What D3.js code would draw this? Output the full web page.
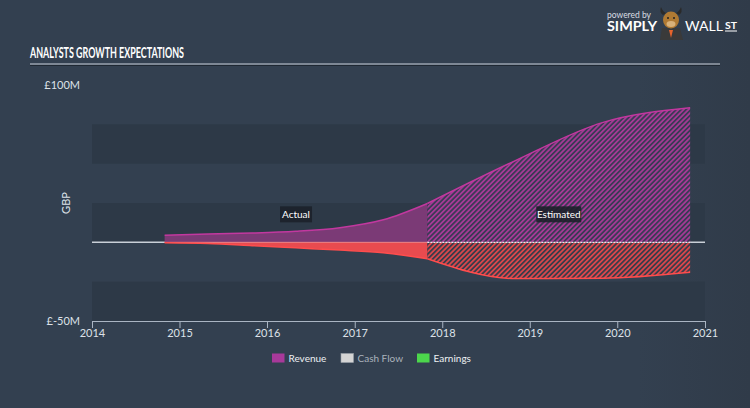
<!DOCTYPE html>
<html><head><meta charset="utf-8">
<script src="https://cdn.jsdelivr.net/npm/d3@7"></script>
<style>
html,body{margin:0;padding:0;background:#334050;}
svg{display:block;}
text{font-family:"Lato","Open Sans",sans-serif;}
</style></head>
<body>
<script>
// ---- data (GBP millions) ----
const actualDates = ["2014-10-31","2015-04-30","2015-10-31","2016-04-30","2016-10-31","2017-04-30","2017-10-31"];
const actualRevenue = [4.5, 5.3, 5.9, 7.0, 9.3, 14.3, 24.7];
const actualEarnings = [-0.3, -0.8, -2.1, -3.5, -4.9, -6.6, -10.4];
const estimateDates = ["2017-10-31","2018-10-31","2019-10-31","2020-10-31"];
const estimateRevenue = [24.7, 51.8, 76.1, 85.5];
const estimateEarnings = [-10.4, -23.0, -22.8, -19.0];
const yTickValues = [-50, 100];
const yTickLabels = ["£-50M", "£100M"];
const xTickYears = [2014, 2015, 2016, 2017, 2018, 2019, 2020, 2021];
const legendItems = ["Revenue", "Cash Flow", "Earnings"];
const legendColors = ["#a8399a", "#d4d4d4", "#4cd64c"];

const W = 750, H = 408;
const svg = d3.select("body").append("svg").attr("width", W).attr("height", H);

// background
const bg = svg.append("defs");
const grad = bg.append("linearGradient").attr("id","bgg").attr("x1","0").attr("x2","1").attr("y1","0").attr("y2","0");
grad.append("stop").attr("offset","0").attr("stop-color","#334050");
grad.append("stop").attr("offset","0.85").attr("stop-color","#334050");
grad.append("stop").attr("offset","1").attr("stop-color","#303b49");
svg.append("rect").attr("width", W).attr("height", H).attr("fill", "url(#bgg)");

// hatch patterns
function hatch(id, stripe, base) {
  const p = bg.append("pattern").attr("id", id).attr("patternUnits","userSpaceOnUse")
    .attr("width", 3.5).attr("height", 3.5).attr("patternTransform","rotate(45)");
  p.append("rect").attr("width",3.5).attr("height",3.5).attr("fill",base);
  p.append("rect").attr("width",1.75).attr("height",3.5).attr("fill",stripe);
}
hatch("hatchRev", "#a53a95", "#3a3a55");
hatch("hatchEarn", "#d9474c", "#3b3c4a");

// title
svg.append("text").attr("x", 30).attr("y", 58).text("ANALYSTS GROWTH EXPECTATIONS")
  .attr("fill", "#ffffff").attr("font-family", "'Liberation Sans Narrow','DejaVu Sans Condensed',sans-serif")
  .attr("font-weight", "bold").attr("font-size", 15)
  .attr("textLength", 154).attr("lengthAdjust", "spacingAndGlyphs");
svg.append("line").attr("x1",30).attr("x2",720).attr("y1",64).attr("y2",64).attr("stroke","#c9d0d9").attr("stroke-width",1.2);
svg.append("line").attr("x1",30).attr("x2",720).attr("y1",65.5).attr("y2",65.5).attr("stroke","#1f2833").attr("stroke-width",1);

// logo
const logo = svg.append("g");
logo.append("text").attr("x",607).attr("y",18).text("powered by").attr("fill","#d8dde3").attr("font-size",9)
  .attr("textLength",44).attr("lengthAdjust","spacingAndGlyphs");
logo.append("text").attr("x",607).attr("y",31).text("SIMPLY").attr("fill","#ffffff").attr("font-size",12.5).attr("font-weight","bold")
  .attr("textLength",50).attr("lengthAdjust","spacingAndGlyphs");
logo.append("text").attr("x",685).attr("y",31).text("WALL").attr("fill","#ffffff").attr("font-size",12.5)
  .attr("textLength",38).attr("lengthAdjust","spacingAndGlyphs");
logo.append("text").attr("x",725).attr("y",29).text("ST").attr("fill","#ffffff").attr("font-size",9.5).attr("font-weight","bold")
  .attr("textLength",12).attr("lengthAdjust","spacingAndGlyphs");
logo.append("line").attr("x1",725).attr("x2",737).attr("y1",31).attr("y2",31).attr("stroke","#fff").attr("stroke-width",1);
// bull
logo.append("path").attr("d","M660,40 L662,28 L680,28 L683,40 Z").attr("fill","#3a3a3a");
logo.append("path").attr("d","M669,30 L671,38 L673,30 Z").attr("fill","#e8642c");
logo.append("ellipse").attr("cx",671).attr("cy",20).attr("rx",8).attr("ry",8.5).attr("fill","#b07a33");
logo.append("path").attr("d","M663,15 Q659,12 661,7 Q663,12 666,13 Z").attr("fill","#2a2a2a");
logo.append("path").attr("d","M679,15 Q683,12 681,7 Q679,12 676,13 Z").attr("fill","#2a2a2a");
logo.append("ellipse").attr("cx",671).attr("cy",24).attr("rx",4.5).attr("ry",3).attr("fill","#d9b27a");
logo.append("circle").attr("cx",668).attr("cy",18).attr("r",1).attr("fill","#222");
logo.append("circle").attr("cx",674).attr("cy",18).attr("r",1).attr("fill","#222");

// scales
const parse = d3.timeParse("%Y-%m-%d");
const x = d3.scaleTime().domain([new Date(2014,0,1), new Date(2021,0,1)]).range([92, 705]);
const y = d3.scaleLinear().domain([-50, 100]).range([321, 85]);

// bands
const bandSteps = d3.range(-50, 100, 25);
svg.append("g").selectAll("rect").data(bandSteps.filter((d,i)=> i%2===0)).join("rect")
  .attr("x", x.range()[0]).attr("width", x.range()[1]-x.range()[0])
  .attr("y", d => y(d+25)).attr("height", d => y(d)-y(d+25))
  .attr("fill", "#2d3947");

// zero line
svg.append("line").attr("x1", x.range()[0]).attr("x2", x.range()[1]).attr("y1", y(0)).attr("y2", y(0))
  .attr("stroke", "#c9d0d8").attr("stroke-width", 1.5);

const act = actualDates.map((d,i)=>({date: parse(d), rev: actualRevenue[i], earn: actualEarnings[i]}));
const est = estimateDates.map((d,i)=>({date: parse(d), rev: estimateRevenue[i], earn: estimateEarnings[i]}));

const curve = d3.curveMonotoneX;
const areaRev = d3.area().x(d=>x(d.date)).y0(y(0)).y1(d=>y(d.rev)).curve(curve);
const lineRev = d3.line().x(d=>x(d.date)).y(d=>y(d.rev)).curve(curve);
const areaEarn = d3.area().x(d=>x(d.date)).y0(y(0)).y1(d=>y(d.earn)).curve(curve);
const lineEarn = d3.line().x(d=>x(d.date)).y(d=>y(d.earn)).curve(curve);

// actual
svg.append("path").datum(act).attr("d", areaRev).attr("fill", "#7b3a76");
svg.append("path").datum(act).attr("d", areaEarn).attr("fill", "#e84b4f");
// estimated
svg.append("path").datum(est).attr("d", areaRev).attr("fill", "url(#hatchRev)");
svg.append("path").datum(est).attr("d", areaEarn).attr("fill", "url(#hatchEarn)");

// zero line overlay within data
svg.append("line").attr("x1", x(act[0].date)).attr("x2", x(act[act.length-1].date)).attr("y1", y(0)).attr("y2", y(0))
  .attr("stroke", "#f08a8c").attr("stroke-width", 1.2).attr("opacity", 0.6);
svg.append("line").attr("x1", x(est[0].date)).attr("x2", x(est[est.length-1].date)).attr("y1", y(0)).attr("y2", y(0))
  .attr("stroke", "#e8e8ee").attr("stroke-width", 1.2).attr("stroke-dasharray", "2,1");

// lines
svg.append("path").datum(act).attr("d", lineRev).attr("fill","none").attr("stroke","#c2389f").attr("stroke-width",1.5);
svg.append("path").datum(est).attr("d", lineRev).attr("fill","none").attr("stroke","#c2389f").attr("stroke-width",1.5);
svg.append("path").datum(act).attr("d", lineEarn).attr("fill","none").attr("stroke","#ff4d4d").attr("stroke-width",1.5);
svg.append("path").datum(est).attr("d", lineEarn).attr("fill","none").attr("stroke","#ff4d4d").attr("stroke-width",1.5);

// actual / estimated labels
function tag(cx, cy, label, w) {
  const g = svg.append("g");
  g.append("rect").attr("x", cx - w/2).attr("y", cy - 8).attr("width", w).attr("height", 16).attr("fill", "#1c212a").attr("opacity", 0.9);
  g.append("text").attr("x", cx).attr("y", cy + 3.5).attr("text-anchor","middle").attr("fill","#ffffff").attr("font-size", 10).text(label);
}
tag((x(act[0].date)+x(act[act.length-1].date))/2, y(0)-28, "Actual", 32);
tag((x(est[0].date)+x(est[est.length-1].date))/2, y(0)-28, "Estimated", 45);

// x axis
const xAxis = d3.axisBottom(x).tickValues(xTickYears.map(yr => new Date(yr,0,1)))
  .tickFormat(d3.timeFormat("%Y")).tickSizeInner(7).tickSizeOuter(0).tickPadding(1);
const gx = svg.append("g").attr("transform", `translate(0,${y(-50)})`).call(xAxis);
gx.select(".domain").attr("stroke", "#aab5c3");
gx.selectAll(".tick line").attr("stroke", "#aab5c3");
gx.selectAll(".tick text").attr("fill", "#dde2e8").attr("font-size", 11).attr("font-family", "Lato, sans-serif");

// y labels
svg.append("g").selectAll("text").data(yTickValues).join("text")
  .attr("x", 80).attr("y", d => y(d) + 4).attr("text-anchor", "end")
  .attr("fill", "#dde2e8").attr("font-size", 11).text((d,i) => yTickLabels[i]);
svg.append("text").attr("transform", `translate(70,${(y(-50)+y(100))/2}) rotate(-90)`)
  .attr("text-anchor","middle").attr("fill","#dde2e8").attr("font-size", 11).text("GBP");

// legend
const legX = [272, 341, 417];
const lg = svg.append("g");
legendItems.forEach((name, i) => {
  lg.append("rect").attr("x", legX[i]).attr("y", 353.5).attr("width", 12.5).attr("height", 9)
    .attr("fill", legendColors[i]).attr("stroke", i===1 ? "#9aa0a8" : "none").attr("stroke-width", 0.6);
  lg.append("text").attr("x", legX[i] + 16.5).attr("y", 361.5).attr("font-size", 10)
    .attr("fill", i===1 ? "#aab2bc" : "#eef1f4").text(name);
});
</script>
</body></html>
